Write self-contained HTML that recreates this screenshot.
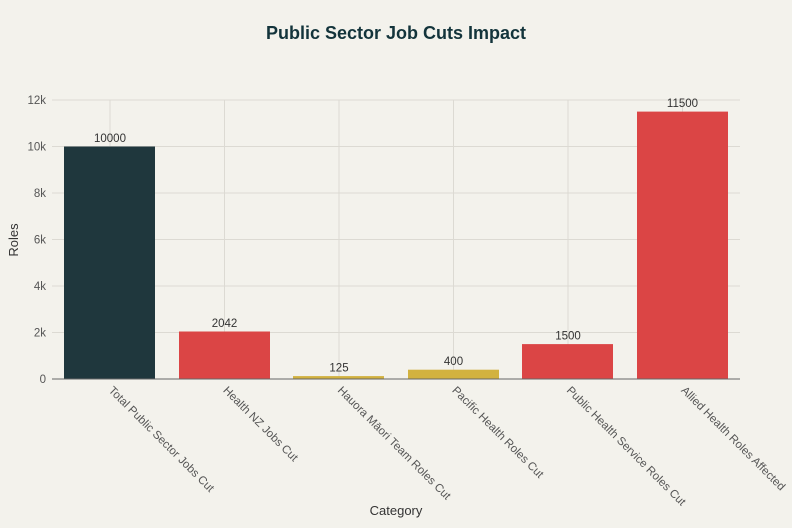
<!DOCTYPE html>
<html><head><meta charset="utf-8"><style>
html,body{margin:0;padding:0;background:#f3f2ec;}
svg{display:block;font-family:"Liberation Sans",sans-serif;}
</style></head><body>
<svg width="792" height="528" viewBox="0 0 792 528">
<rect width="792" height="528" fill="#f3f2ec"/>
<text x="396" y="39" text-anchor="middle" font-size="18" font-weight="bold" fill="#13343b">Public Sector Job Cuts Impact</text>
<g stroke="#dcdad3" stroke-width="1">
<line x1="52" y1="100" x2="740" y2="100"/>
<line x1="52" y1="146.5" x2="740" y2="146.5"/>
<line x1="52" y1="193" x2="740" y2="193"/>
<line x1="52" y1="239.5" x2="740" y2="239.5"/>
<line x1="52" y1="286" x2="740" y2="286"/>
<line x1="52" y1="332.5" x2="740" y2="332.5"/>
<line x1="110" y1="100" x2="110" y2="379"/>
<line x1="224.5" y1="100" x2="224.5" y2="379"/>
<line x1="339" y1="100" x2="339" y2="379"/>
<line x1="453.5" y1="100" x2="453.5" y2="379"/>
<line x1="568" y1="100" x2="568" y2="379"/>
<line x1="682.5" y1="100" x2="682.5" y2="379"/>
</g>
<g font-size="11.5" fill="#555" text-anchor="end">
<text x="46" y="104">12k</text><text x="46" y="150.5">10k</text><text x="46" y="197">8k</text>
<text x="46" y="243.5">6k</text><text x="46" y="290">4k</text><text x="46" y="336.5">2k</text><text x="46" y="383">0</text>
</g>
<rect x="64" y="146.5" width="91" height="232.5" fill="#1f373d"/>
<rect x="179" y="331.5" width="91" height="47.5" fill="#db4545"/>
<rect x="293" y="376.1" width="91" height="2.9" fill="#d2b23f"/>
<rect x="408" y="369.7" width="91" height="9.3" fill="#d2b23f"/>
<rect x="522" y="344.1" width="91" height="34.9" fill="#db4545"/>
<rect x="637" y="111.6" width="91" height="267.4" fill="#db4545"/>
<line x1="52" y1="379" x2="740" y2="379" stroke="#666" stroke-width="1"/>
<g font-size="11.5" fill="#333" text-anchor="middle">
<text x="110" y="142">10000</text><text x="224.5" y="327">2042</text><text x="339" y="371.5">125</text>
<text x="453.5" y="365">400</text><text x="568" y="339.5">1500</text><text x="682.5" y="107">11500</text>
</g>
<g font-size="11.5" fill="#555">
<text transform="translate(108,391) rotate(45)">Total Public Sector Jobs Cut</text>
<text transform="translate(222.5,391) rotate(45)">Health NZ Jobs Cut</text>
<text transform="translate(337,391) rotate(45)">Hauora Māori Team Roles Cut</text>
<text transform="translate(451.5,391) rotate(45)">Pacific Health Roles Cut</text>
<text transform="translate(566,391) rotate(45)">Public Health Service Roles Cut</text>
<text transform="translate(680.5,391) rotate(45)">Allied Health Roles Affected</text>
</g>
<text x="396" y="515" text-anchor="middle" font-size="13" fill="#333">Category</text>
<text transform="translate(18,240) rotate(-90)" text-anchor="middle" font-size="13" fill="#333">Roles</text>
</svg>
</body></html>
